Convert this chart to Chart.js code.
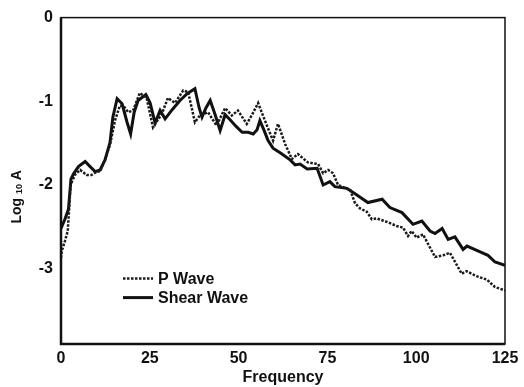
<!DOCTYPE html>
<html>
<head>
<meta charset="utf-8">
<script src="https://cdn.jsdelivr.net/npm/chart.js@4/dist/chart.umd.min.js"></script>
<style>
  body { margin: 0; background: #fff; }
  canvas { display: block; }
</style>
</head>
<body>
<canvas id="myChart" width="524" height="387"></canvas>
<script>
// Shear Wave (plná čára)
const shearFreq = [0, 1.1, 2.1, 2.8, 3.5, 4.9, 6.8, 8.2, 9.6, 11.0, 12.4, 13.8, 14.6, 15.8, 17.2, 18.6, 19.6, 20.6, 21.7, 23.9,
  25.1, 26.5, 27.9, 29.3, 31.3, 33.5, 35.5, 37.7, 38.9, 39.7, 40.8, 42.0, 43.4, 44.8, 46.2, 47.6, 49.3, 51.0, 52.7, 54.1,
  55.2, 56.0, 57.2, 58.3, 59.7, 61.9, 64.5, 65.9, 67.3, 69.3, 72.1, 73.8, 75.7, 77.1, 80.5, 83.3, 86.4, 90.4, 92.6, 96.0,
  99.1, 101.6, 103.9, 105.3, 107.3, 109.0, 110.9, 113.2, 114.3, 118.0, 120.2, 122.2, 125];
const shearLogA = [-2.52, -2.41, -2.29, -1.93, -1.87, -1.78, -1.72, -1.78, -1.84, -1.82, -1.70, -1.49, -1.19, -0.97, -1.03, -1.25, -1.39, -1.13, -0.99, -0.92,
  -1.02, -1.26, -1.11, -1.21, -1.10, -0.99, -0.91, -0.85, -1.08, -1.19, -1.08, -0.99, -1.16, -1.35, -1.16, -1.22, -1.30, -1.37, -1.37, -1.39,
  -1.34, -1.23, -1.35, -1.47, -1.56, -1.62, -1.70, -1.76, -1.75, -1.81, -1.80, -2.00, -1.96, -2.02, -2.04, -2.12, -2.21, -2.17, -2.27, -2.33,
  -2.47, -2.43, -2.55, -2.58, -2.52, -2.65, -2.62, -2.77, -2.73, -2.80, -2.84, -2.92, -2.96];

// P Wave (tečkovaná čára)
const pFreq = [0, 0.2, 1.1, 1.9, 2.3, 2.7, 3.9, 5.4, 7.2, 8.6, 10.1, 11.0, 12.4, 13.8, 15.2, 16.6, 17.7, 18.9, 20.3, 22.2,
  24.1, 25.9, 28.4, 30.1, 32.1, 34.4, 35.8, 37.7, 39.1, 41.4, 43.8, 46.2, 48.1, 49.8, 52.3, 53.8, 55.5, 57.4, 59.7, 61.1,
  63.1, 65.0, 66.7, 69.5, 72.4, 73.8, 75.2, 76.6, 78.0, 81.4, 82.8, 84.2, 86.1, 87.5, 88.9, 91.7, 94.5, 96.3, 97.7, 98.7,
  100.1, 101.9, 105.3, 107.6, 109.5, 112.8, 114.2, 117.0, 119.9, 122.2, 125];
const pLogA = [-2.87, -2.79, -2.67, -2.55, -2.28, -2.00, -1.88, -1.82, -1.88, -1.88, -1.84, -1.84, -1.69, -1.52, -1.23, -1.05, -1.06, -1.13, -1.11, -0.90,
  -0.96, -1.31, -1.15, -0.96, -1.02, -0.87, -0.89, -1.25, -1.17, -1.13, -1.29, -1.08, -1.17, -1.11, -1.27, -1.16, -1.02, -1.23, -1.47, -1.27,
  -1.51, -1.69, -1.63, -1.73, -1.75, -1.86, -1.82, -1.86, -2.00, -2.06, -2.22, -2.28, -2.32, -2.41, -2.40, -2.44, -2.49, -2.51, -2.61, -2.55,
  -2.63, -2.59, -2.86, -2.84, -2.81, -3.06, -3.03, -3.09, -3.13, -3.22, -3.26];

const xTicks = [0, 25, 50, 75, 100, 125];
const yTicks = [0, -1, -2, -3];

const FONT = '"Liberation Sans", Arial, sans-serif';
const toPoints = (xs, ys) => xs.map((x, i) => ({ x: x, y: ys[i] }));

// Rámeček kolem celé plochy grafu
const framePlugin = {
  id: 'frame',
  afterDatasetsDraw(chart) {
    const { ctx, chartArea: a } = chart;
    ctx.save();
    ctx.strokeStyle = '#111';
    ctx.lineWidth = 1.5;
    ctx.strokeRect(a.left, a.top, a.right - a.left, a.bottom - a.top);
    ctx.lineWidth = 2.5;
    ctx.beginPath();
    ctx.moveTo(a.left, a.top);
    ctx.lineTo(a.left, a.bottom);
    ctx.lineTo(a.right, a.bottom);
    ctx.stroke();
    ctx.restore();
  }
};

// Popisek osy Y s dolním indexem: Log 10 A
const yTitlePlugin = {
  id: 'yTitle',
  afterDraw(chart) {
    const { ctx, chartArea: a } = chart;
    const parts = [
      { t: 'Log', size: 14, dy: 0 },
      { t: ' ', size: 14, dy: 0 },
      { t: '10', size: 9, dy: 3 },
      { t: ' ', size: 14, dy: 0 },
      { t: 'A', size: 14, dy: 0 }
    ];
    ctx.save();
    let total = 0;
    parts.forEach(p => {
      ctx.font = 'bold ' + p.size + 'px ' + FONT;
      p.w = ctx.measureText(p.t).width;
      total += p.w;
    });
    ctx.translate(17, (a.top + a.bottom) / 2 + 16);
    ctx.rotate(-Math.PI / 2);
    ctx.fillStyle = '#111';
    ctx.textBaseline = 'middle';
    let x = -total / 2;
    parts.forEach(p => {
      ctx.font = 'bold ' + p.size + 'px ' + FONT;
      ctx.fillText(p.t, x, p.dy);
      x += p.w;
    });
    ctx.restore();
  }
};

// Legenda uvnitř grafu (vlevo dole)
const insideLegend = {
  id: 'insideLegend',
  afterDraw(chart) {
    const { ctx, chartArea: a } = chart;
    ctx.save();
    ctx.font = 'bold 16px ' + FONT;
    ctx.textBaseline = 'middle';
    chart.data.datasets.forEach((ds, i) => {
      const y = a.top + 261 + i * 19;
      const x = a.left + 62;
      ctx.strokeStyle = ds.borderColor;
      ctx.lineWidth = ds.borderWidth;
      ctx.setLineDash(ds.borderDash || []);
      ctx.beginPath();
      ctx.moveTo(x, y);
      ctx.lineTo(x + 30, y);
      ctx.stroke();
      ctx.setLineDash([]);
      ctx.fillStyle = '#111';
      ctx.fillText(ds.label, x + 35, y + 1);
    });
    ctx.restore();
  }
};

const ctx = document.getElementById('myChart').getContext('2d');
new Chart(ctx, {
  type: 'line',
  data: {
    datasets: [{
      label: 'P Wave',
      data: toPoints(pFreq, pLogA),
      borderColor: '#1a1a1a',
      borderWidth: 2.5,
      borderDash: [2.5, 1.5],
      pointRadius: 0,
      tension: 0,
      fill: false
    }, {
      label: 'Shear Wave',
      data: toPoints(shearFreq, shearLogA),
      borderColor: '#111',
      borderWidth: 3,
      pointRadius: 0,
      tension: 0,
      fill: false
    }]
  },
  options: {
    responsive: false,
    animation: false,
    layout: { padding: { top: 14, right: 19, left: 0, bottom: 0 } },
    plugins: {
      legend: { display: false },
      tooltip: { enabled: false }
    },
    scales: {
      x: {
        type: 'linear',
        min: 0,
        max: 125,
        afterFit(scale) { scale.height = 43; },
        afterBuildTicks(scale) { scale.ticks = xTicks.map(v => ({ value: v })); },
        grid: { display: false, drawTicks: false, tickLength: 0 },
        border: { display: false },
        ticks: {
          padding: 5,
          color: '#111',
          font: { family: FONT, size: 16, weight: 'bold' },
          maxRotation: 0,
          callback: v => String(v)
        },
        title: {
          display: true,
          text: 'Frequency',
          color: '#111',
          padding: { top: 0, bottom: 0 },
          font: { family: FONT, size: 16, weight: 'bold' }
        }
      },
      y: {
        min: -3.9,
        max: 0,
        afterFit(scale) { scale.width = 61; },
        afterBuildTicks(scale) { scale.ticks = yTicks.map(v => ({ value: v })); },
        grid: { display: false, drawTicks: false, tickLength: 0 },
        border: { display: false },
        ticks: {
          padding: 8,
          color: '#111',
          font: { family: FONT, size: 16, weight: 'bold' },
          callback: v => String(v)
        },
        title: { display: false }
      }
    }
  },
  plugins: [framePlugin, yTitlePlugin, insideLegend]
});
</script>
</body>
</html>
